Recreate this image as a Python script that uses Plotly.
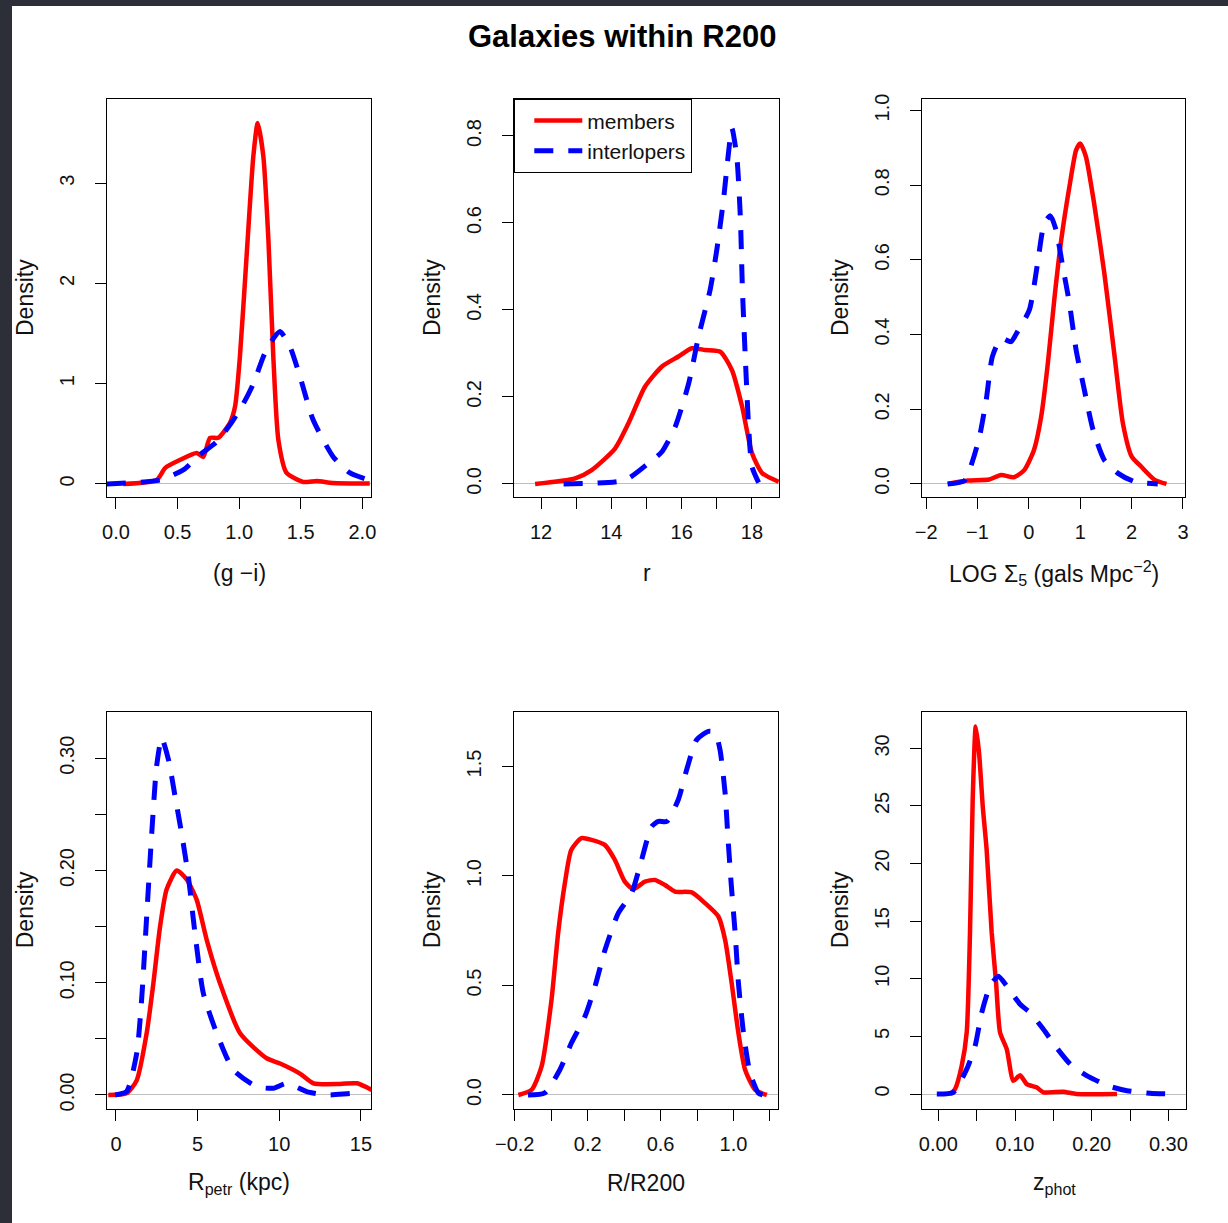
import plotly.graph_objects as go

W, H = 1228, 1223

# ---------------- data ----------------
# Panel 1: (g - i) colour
gi_mem_x = [0.06, 0.33, 0.40, 0.52, 0.655, 0.709, 0.763, 0.83, 0.925, 0.966, 1.006, 1.06, 1.115, 1.15, 1.196, 1.237, 1.277, 1.318, 1.385, 1.52, 1.63, 1.76, 2.06]
gi_mem_y = [0.0, 0.04, 0.16, 0.24, 0.31, 0.27, 0.46, 0.46, 0.61, 0.77, 1.27, 2.27, 3.27, 3.60, 3.27, 2.44, 1.27, 0.44, 0.11, 0.02, 0.03, 0.01, 0.005]
gi_int_x = [-0.075, 0.36, 0.546, 0.68, 0.817, 0.925, 1.033, 1.115, 1.196, 1.25, 1.331, 1.412, 1.494, 1.60, 1.764, 1.90, 2.075]
gi_int_y = [0.0, 0.04, 0.14, 0.29, 0.42, 0.59, 0.80, 1.0, 1.27, 1.40, 1.52, 1.37, 1.07, 0.64, 0.27, 0.11, 0.03]

# Panel 2: r magnitude
r_mem_x = [11.83, 12.97, 13.44, 14.11, 14.49, 14.96, 15.44, 15.91, 16.29, 16.67, 17.10, 17.43, 17.72, 18.0, 18.29, 18.76]
r_mem_y = [0.0, 0.013, 0.032, 0.082, 0.14, 0.224, 0.27, 0.293, 0.312, 0.308, 0.304, 0.262, 0.178, 0.071, 0.025, 0.005]
r_int_x = [12.64, 14.39, 15.06, 15.44, 15.82, 16.20, 16.48, 16.81, 17.0, 17.19, 17.32, 17.43, 17.57, 17.67, 17.73, 17.81, 17.9, 18.0, 18.19]
r_int_y = [0.0, 0.009, 0.048, 0.074, 0.132, 0.231, 0.339, 0.446, 0.538, 0.653, 0.752, 0.818, 0.752, 0.614, 0.446, 0.293, 0.14, 0.04, 0.003]

# Panel 3: LOG Sigma_5
s5_mem_x = [-1.58, -1.19, -0.77, -0.54, -0.29, -0.09, 0.10, 0.24, 0.37, 0.50, 0.63, 0.79, 0.92, 1.0, 1.11, 1.28, 1.47, 1.67, 1.83, 2.0, 2.19, 2.45, 2.68]
s5_mem_y = [0.0, 0.009, 0.012, 0.024, 0.018, 0.037, 0.091, 0.18, 0.323, 0.50, 0.653, 0.796, 0.894, 0.912, 0.877, 0.743, 0.564, 0.341, 0.163, 0.074, 0.046, 0.011, 0.0]
s5_int_x = [-1.58, -1.25, -1.09, -0.96, -0.83, -0.71, -0.54, -0.35, -0.22, 0.01, 0.17, 0.30, 0.42, 0.53, 0.66, 0.79, 0.92, 1.08, 1.25, 1.47, 1.73, 2.06, 2.51]
s5_int_y = [0.0, 0.009, 0.064, 0.127, 0.225, 0.341, 0.39, 0.381, 0.408, 0.466, 0.591, 0.698, 0.718, 0.68, 0.582, 0.484, 0.359, 0.252, 0.145, 0.064, 0.029, 0.006, 0.0]

# Panel 4: R_petr (kpc)
rp_mem_x = [-0.47, 0.65, 1.27, 1.88, 2.29, 2.70, 3.10, 3.72, 4.33, 4.94, 5.56, 6.37, 7.60, 9.23, 10.05, 11.27, 12.09, 13.73, 14.75, 15.67]
rp_mem_y = [0.0, 0.0015, 0.013, 0.055, 0.0996, 0.15, 0.183, 0.20, 0.192, 0.174, 0.138, 0.0996, 0.055, 0.0327, 0.028, 0.019, 0.0104, 0.0098, 0.0104, 0.0045]
rp_int_x = [-0.06, 0.65, 1.27, 1.57, 1.88, 2.19, 2.49, 2.80, 3.21, 3.62, 4.02, 4.43, 4.84, 5.35, 6.17, 7.19, 8.62, 9.64, 10.46, 11.68, 12.91, 14.54, 14.9]
rp_int_y = [0.0, 0.003, 0.037, 0.0847, 0.159, 0.233, 0.293, 0.318, 0.299, 0.266, 0.233, 0.195, 0.144, 0.0906, 0.055, 0.0223, 0.0074, 0.006, 0.0104, 0.003, 0.0, 0.0015, 0.001]

# Panel 5: R / R200
rr_mem_x = [-0.18, -0.108, -0.053, 0.0016, 0.038, 0.075, 0.11, 0.166, 0.221, 0.294, 0.349, 0.404, 0.45, 0.514, 0.569, 0.624, 0.679, 0.771, 0.844, 0.917, 0.954, 0.99, 1.027, 1.064, 1.119, 1.183]
rr_mem_y = [0.0, 0.023, 0.129, 0.434, 0.739, 0.967, 1.119, 1.173, 1.165, 1.142, 1.074, 0.974, 0.94, 0.974, 0.982, 0.959, 0.929, 0.925, 0.876, 0.815, 0.708, 0.51, 0.282, 0.114, 0.023, 0.0]
rr_int_x = [-0.127, -0.035, 0.047, 0.11, 0.185, 0.24, 0.295, 0.368, 0.441, 0.496, 0.551, 0.588, 0.634, 0.697, 0.743, 0.798, 0.862, 0.899, 0.926, 0.954, 0.968, 0.987, 1.009, 1.027, 1.055, 1.091, 1.137, 1.16]
rr_int_y = [0.0, 0.01, 0.114, 0.236, 0.358, 0.495, 0.662, 0.83, 0.921, 1.074, 1.226, 1.249, 1.249, 1.348, 1.485, 1.622, 1.66, 1.655, 1.576, 1.378, 1.195, 0.967, 0.739, 0.51, 0.282, 0.099, 0.008, 0.0]

# Panel 6: z_phot
zp_mem_x = [0.0153, 0.0218, 0.0305, 0.037, 0.0413, 0.0448, 0.0488, 0.0531, 0.058, 0.063, 0.0696, 0.0753, 0.0805, 0.0892, 0.0979, 0.1066, 0.1153, 0.128, 0.137, 0.163, 0.180, 0.233]
zp_mem_y = [0.0, 0.43, 2.45, 5.34, 14.0, 25.5, 31.9, 29.6, 24.9, 21.2, 14.0, 9.66, 5.34, 3.89, 1.15, 1.64, 0.865, 0.58, 0.15, 0.2, 0.0, 0.0]
zp_int_x = [-0.002, 0.0196, 0.037, 0.048, 0.0566, 0.0674, 0.0783, 0.0892, 0.1066, 0.1196, 0.137, 0.154, 0.172, 0.194, 0.224, 0.246, 0.276, 0.302]
zp_int_y = [0.0, 0.15, 2.16, 4.18, 7.07, 9.37, 10.23, 9.37, 7.79, 7.07, 5.62, 4.04, 2.6, 1.58, 0.66, 0.29, 0.07, 0.0]

series_names = ["members", "interlopers"]
title_text = "Galaxies within R200"
x_titles = ["(g \u2212i)", "r", "LOG \u03a3<sub>5</sub> (gals Mpc<sup>\u22122</sup>)",
            "R<sub>petr</sub> (kpc)", "R/R200", "z<sub>phot</sub>"]

# labelled ticks and unlabelled (minor) ticks
x_tickvals = [[0, 0.5, 1.0, 1.5, 2.0], [12, 14, 16, 18], [-2, -1, 0, 1, 2, 3],
              [0, 5, 10, 15], [-0.2, 0.2, 0.6, 1.0], [0, 0.10, 0.20, 0.30]]
x_ticktext = [["0.0", "0.5", "1.0", "1.5", "2.0"], ["12", "14", "16", "18"],
              ["\u22122", "\u22121", "0", "1", "2", "3"], ["0", "5", "10", "15"],
              ["\u22120.2", "0.2", "0.6", "1.0"], ["0.00", "0.10", "0.20", "0.30"]]
x_minor = [[], [13, 15, 17], [], [], [0.0, 0.4, 0.8, 1.2], [0.05, 0.15, 0.25]]
y_tickvals = [[0, 1, 2, 3], [0, 0.2, 0.4, 0.6, 0.8], [0, 0.2, 0.4, 0.6, 0.8, 1.0],
              [0, 0.10, 0.20, 0.30], [0, 0.5, 1.0, 1.5], [0, 5, 10, 15, 20, 25, 30]]
y_ticktext = [["0", "1", "2", "3"], ["0.0", "0.2", "0.4", "0.6", "0.8"],
              ["0.0", "0.2", "0.4", "0.6", "0.8", "1.0"], ["0.00", "0.10", "0.20", "0.30"],
              ["0.0", "0.5", "1.0", "1.5"], ["0", "5", "10", "15", "20", "25", "30"]]
y_minor = [[], [], [], [0.05, 0.15, 0.25], [], []]

x_ranges = [[-0.073, 2.07], [11.23, 18.77], [-2.08, 3.04], [-0.55, 15.62], [-0.204, 1.244], [-0.0213, 0.323]]
y_ranges = [[-0.13, 3.84], [-0.03, 0.885], [-0.035, 1.031], [-0.0125, 0.3416], [-0.064, 1.751], [-1.3, 33.2]]

panels = [
    (gi_mem_x, gi_mem_y, gi_int_x, gi_int_y),
    (r_mem_x, r_mem_y, r_int_x, r_int_y),
    (s5_mem_x, s5_mem_y, s5_int_x, s5_int_y),
    (rp_mem_x, rp_mem_y, rp_int_x, rp_int_y),
    (rr_mem_x, rr_mem_y, rr_int_x, rr_int_y),
    (zp_mem_x, zp_mem_y, zp_int_x, zp_int_y),
]

# ---------------- layout geometry (pixels) ----------------
box_x = [(107, 371), (514, 779), (922, 1185), (107, 371), (514, 778), (922, 1186)]
box_y = [(99, 497), (99, 497), (99, 497), (711.5, 1109), (711.5, 1109), (711.5, 1109)]

def px(x):
    return x / W

def py(y):
    return 1 - y / H

FONT = "Liberation Sans, Arial, Helvetica, sans-serif"
TICK_SIZE = 20
LAB_SIZE = 23
TXT = "#111111"

fig = go.Figure()
layout = dict(
    template="none",
    width=W, height=H, autosize=False,
    margin=dict(l=0, r=0, t=0, b=0, pad=0),
    paper_bgcolor="#2c2f38",
    plot_bgcolor="white",
    font=dict(family=FONT, color="black", size=TICK_SIZE),
    showlegend=True,
)

annotations = []
for i, (mx, my, ix, iy) in enumerate(panels):
    k = "" if i == 0 else str(i + 1)
    fig.add_trace(go.Scatter(
        x=mx, y=my, mode="lines", name=series_names[0],
        line=dict(color="#ff0000", width=4.5, shape="spline", smoothing=0.6),
        xaxis="x" + k, yaxis="y" + k, showlegend=(i == 1), legendrank=1, hoverinfo="skip",
    ))
    fig.add_trace(go.Scatter(
        x=ix, y=iy, mode="lines", name=series_names[1],
        line=dict(color="#0000ff", width=5, dash="19px,15px", shape="spline", smoothing=0.6),
        xaxis="x" + k, yaxis="y" + k, showlegend=(i == 1), legendrank=2, hoverinfo="skip",
    ))
    x0, x1 = box_x[i]
    y0, y1 = box_y[i]
    common = dict(showline=True, mirror=True, linecolor="black", linewidth=1.3,
                  ticks="outside", ticklen=11, tickwidth=1.3, tickcolor="black",
                  showgrid=False, automargin=False,
                  tickfont=dict(size=TICK_SIZE, family=FONT, color=TXT))
    minor_x = dict(tickmode="array", tickvals=x_minor[i], ticks="outside", ticklen=11,
                   tickwidth=1.3, tickcolor="black", showgrid=False)
    minor_y = dict(tickmode="array", tickvals=y_minor[i], ticks="outside", ticklen=11,
                   tickwidth=1.3, tickcolor="black", showgrid=False)
    layout["xaxis" + k] = dict(
        domain=[px(x0), px(x1)], range=x_ranges[i], anchor="y" + k,
        tickmode="array", tickvals=x_tickvals[i], ticktext=x_ticktext[i], minor=minor_x,
        zeroline=False, ticklabelstandoff=6, **common)
    layout["yaxis" + k] = dict(
        domain=[py(y1), py(y0)], range=y_ranges[i], anchor="x" + k,
        tickmode="array", tickvals=y_tickvals[i], ticktext=y_ticktext[i], minor=minor_y,
        tickangle=-90, zeroline=True, zerolinecolor="#bebebe", zerolinewidth=1.2,
        ticklabelstandoff=13, **common)
    cx = (x0 + x1) / 2
    ty = 573 if i < 3 else 1183
    annotations.append(dict(text=x_titles[i], x=px(cx), y=py(ty), xref="paper", yref="paper",
                            showarrow=False, xanchor="center", yanchor="middle",
                            font=dict(size=LAB_SIZE, family=FONT, color=TXT)))
    dx = [25, 432, 840][i % 3]
    annotations.append(dict(text="Density", x=px(dx), y=py((y0 + y1) / 2), xref="paper", yref="paper",
                            showarrow=False, xanchor="center", yanchor="middle", textangle=-90,
                            font=dict(size=LAB_SIZE, family=FONT, color=TXT)))

annotations.append(dict(text="<b>" + title_text + "</b>", x=px(622), y=py(36), xref="paper", yref="paper",
                        showarrow=False, xanchor="center", yanchor="middle",
                        font=dict(size=31, family=FONT, color="black")))

layout["annotations"] = annotations
layout["shapes"] = [dict(type="rect", xref="paper", yref="paper", x0=px(12), x1=1.0, y0=0, y1=py(6),
                         fillcolor="white", line=dict(width=0), layer="below")]
layout["legend"] = dict(x=px(514), y=py(99), xanchor="left", yanchor="top",
                        bgcolor="white", bordercolor="black", borderwidth=1.3,
                        font=dict(size=21, family=FONT, color=TXT),
                        itemwidth=48, indentation=14, tracegroupgap=0)
fig.update_layout(**layout)
fig.write_html("out.html", config={"displayModeBar": False},
               post_script="document.body.style.margin='0';document.body.style.overflow='hidden';")
